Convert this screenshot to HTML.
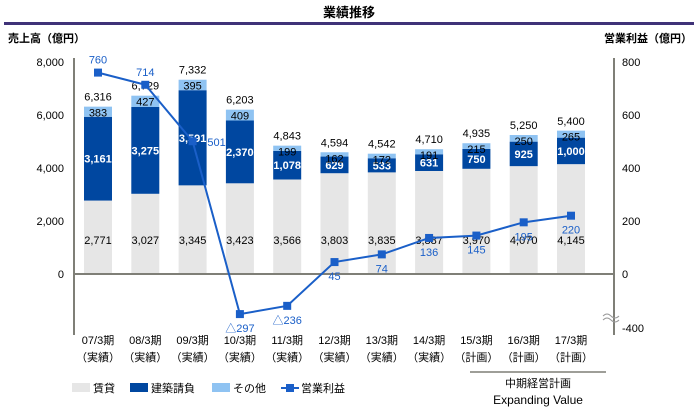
<!DOCTYPE html>
<html><head><meta charset="utf-8"><style>
body{margin:0;background:#fff;font-family:"Liberation Sans","Noto Sans CJK JP",sans-serif}
svg text{font-family:"Liberation Sans","Noto Sans CJK JP",sans-serif}
</style></head><body>
<svg id="c" width="698" height="409">
<text x="349" y="17" text-anchor="middle" font-size="13" font-weight="bold">業績推移</text>
<rect x="4" y="22" width="690" height="3" fill="#3f3278"/>
<text x="8" y="42" font-size="11" font-weight="bold">売上高（億円）</text>
<text x="692" y="42" font-size="11" font-weight="bold" text-anchor="end">営業利益（億円）</text>
<g id="g"></g>
</svg>
<script>
const categories=["07/3期","08/3期","09/3期","10/3期","11/3期","12/3期","13/3期","14/3期","15/3期","16/3期","17/3期"];
const subLabels=["（実績）","（実績）","（実績）","（実績）","（実績）","（実績）","（実績）","（実績）","（計画）","（計画）","（計画）"];
const rental=[2771,3027,3345,3423,3566,3803,3835,3887,3970,4070,4145];
const construction=[3161,3275,3591,2370,1078,629,533,631,750,925,1000];
const other=[383,427,395,409,199,162,172,191,215,250,265];
const totals=[6316,6729,7332,6203,4843,4594,4542,4710,4935,5250,5400];
const profit=[760,714,501,-297,-236,45,74,136,145,195,220];
const profitLabels=["760","714","501","△297","△236","45","74","136","145","195","220"];
const leftTicks=[0,2000,4000,6000,8000];
const rightTicks=[800,600,400,200,0,-400];
const NS="http://www.w3.org/2000/svg",g=document.getElementById('g');
const y0=274;
const xc=i=>98+i*47.3;
const yL=v=>y0-v*212/8000;
const yR=v=>v>=0?y0-v*212/800:y0+(-v)*54/400;
const fmt=v=>v.toLocaleString('en-US');
function el(t,a,txt){const e=document.createElementNS(NS,t);for(const k in a)e.setAttribute(k,a[k]);if(txt!=null)e.textContent=txt;g.appendChild(e);return e;}
let e=el('line',{x1:74,y1:58,x2:74,y2:335,stroke:'#7f7f77','stroke-width':2});

e=el('line',{x1:614,y1:58,x2:614,y2:335,stroke:'#7f7f77','stroke-width':2});

leftTicks.forEach(v=>{const t=el('text',{x:64,y:yL(v)+4,'text-anchor':'end','font-size':11},fmt(v));
});
rightTicks.forEach(v=>{const t=el('text',{x:622,y:yR(v)+4,'font-size':11},String(v));
});
e=el('path',{d:'M603 316 q4 -4 8 0 t8 0 M603 320 q4 -4 8 0 t8 0',stroke:'#999',fill:'none'});

const bw=28;
categories.forEach((c,i)=>{
 const x=xc(i)-bw/2;
 let r=el('rect',{x:x,y:yL(rental[i]),width:bw,height:yL(0)-yL(rental[i]),fill:'#e6e6e6'});
 
 const c1=rental[i]+construction[i];
 r=el('rect',{x:x,y:yL(c1),width:bw,height:yL(rental[i])-yL(c1),fill:'#0047a0'});
 
 const c2=c1+other[i];
 r=el('rect',{x:x,y:yL(c2),width:bw,height:yL(c1)-yL(c2),fill:'#8fc3f2'});
 
 let t=el('text',{x:xc(i),y:244,'text-anchor':'middle','font-size':11},fmt(rental[i]));
 
 t=el('text',{x:xc(i),y:(yL(rental[i])+yL(c1))/2+4,'text-anchor':'middle','font-size':11,fill:'#fff','font-weight':'bold'},fmt(construction[i]));
 
 t=el('text',{x:xc(i),y:yL(c2)+10,'text-anchor':'middle','font-size':11},fmt(other[i]));
 
 t=el('text',{x:xc(i),y:yL(totals[i])-6,'text-anchor':'middle','font-size':11},fmt(totals[i]));
 
 t=el('text',{x:xc(i),y:344,'text-anchor':'middle','font-size':11},c);
 
 t=el('text',{x:xc(i),y:361,'text-anchor':'middle','font-size':11},subLabels[i]);
 
});
e=el('line',{x1:74,y1:y0,x2:614,y2:y0,stroke:'#7f7f77','stroke-width':2});

e=el('polyline',{points:profit.map((v,i)=>xc(i)+','+yR(v)).join(' '),fill:'none',stroke:'#1a5fc8','stroke-width':2});

profit.forEach((v,i)=>{
 const m=el('rect',{x:xc(i)-4,y:yR(v)-4,width:8,height:8,fill:'#1a5fc8'});
 
 let lx=xc(i),ly;
 if(i<2)ly=yR(v)-9; else if(i==2){lx=xc(i)+24;ly=yR(v)+5;} else ly=yR(v)+18;
 const t=el('text',{x:lx,y:ly,'text-anchor':'middle','font-size':11,fill:'#1a5fc8'},profitLabels[i]);
 
});
e=el('line',{x1:470,y1:372,x2:606,y2:372,stroke:'#7f7f77','stroke-width':1.5});

e=el('text',{x:538,y:387,'text-anchor':'middle','font-size':11},'中期経営計画');

e=el('text',{x:538,y:404,'text-anchor':'middle','font-size':12},'Expanding Value');

const leg=[["賃貸","#e6e6e6",72],["建築請負","#0047a0",130],["その他","#8fc3f2",212]];
leg.forEach(l=>{
 let r=el('rect',{x:l[2],y:383,width:18,height:9,fill:l[1]});
 
 let t=el('text',{x:l[2]+21,y:392,'font-size':11},l[0]);
 
});
e=el('line',{x1:281,y1:388,x2:299,y2:388,stroke:'#1a5fc8','stroke-width':2});

e=el('rect',{x:286,y:384,width:8,height:8,fill:'#1a5fc8'});

e=el('text',{x:301,y:392,'font-size':11},'営業利益');

</script>
</body></html>
